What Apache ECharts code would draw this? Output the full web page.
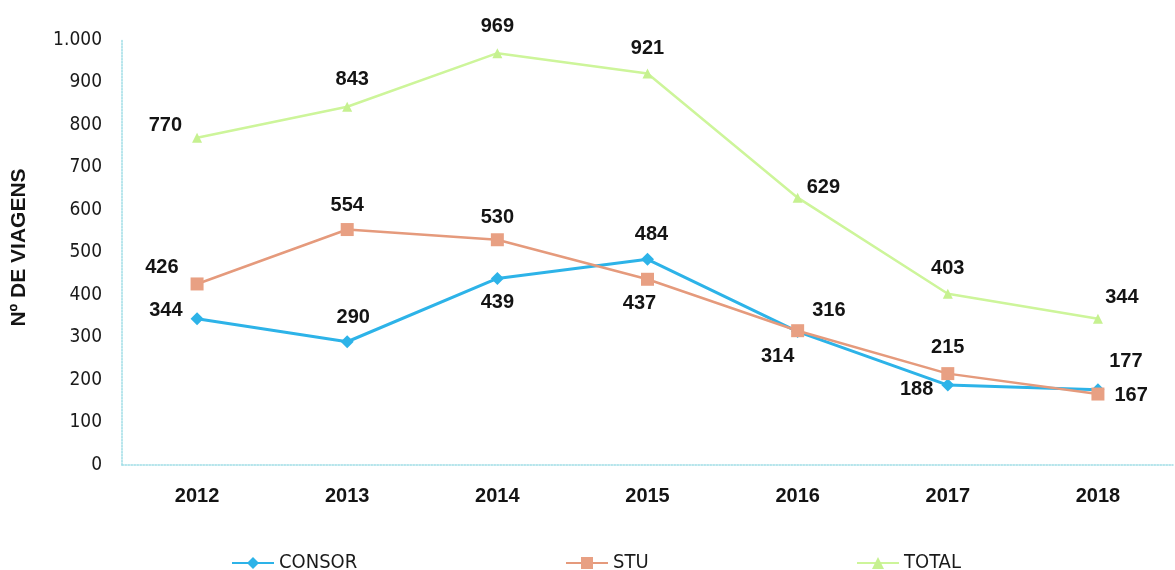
<!DOCTYPE html>
<html>
<head>
<meta charset="utf-8">
<script src="https://cdn.jsdelivr.net/npm/echarts@6/dist/echarts.min.js"></script>
<style>
html,body{margin:0;padding:0;background:#fff;}
#chart{width:1175px;height:570px;}
</style>
</head>
<body>
<div id="chart"></div>
<script>
var categories = ['2012','2013','2014','2015','2016','2017','2018'];
var consor = [344, 290, 439, 484, 314, 188, 177];
var stu = [426, 554, 530, 437, 316, 215, 167];
var total = [770, 843, 969, 921, 629, 403, 344];
var yTicks = [0, 100, 200, 300, 400, 500, 600, 700, 800, 900, 1000];

// label placement (style only)
var consorPos = [['left',[-2,-8]],['top',[6,-2]],['bottom',[0,2]],['top',[4,-2]],['bottom',[-20,2]],['left',[-2,4]],['top',[28,-6]]];
var stuPos = [['left',[-6,-16]],['top',[0,-2]],['top',[0,0]],['bottom',[-8,2]],['right',[2,-20]],['top',[0,-4]],['right',[4,1]]];
var totalPos = [['left',[-4,-12]],['top',[5,-6]],['top',[0,-6]],['top',[0,-4]],['right',[-2,-10]],['top',[0,-4]],['top',[24,0]]];

var labelFont = {fontFamily:'Liberation Sans, Arial, sans-serif', fontWeight:'bold', fontSize:20, color:'#141414'};

function mk(vals, pos){
  return vals.map(function(v,i){
    return {value:v, label:Object.assign({show:true, position:pos[i][0], offset:pos[i][1], distance:6}, labelFont)};
  });
}

var chart = echarts.init(document.getElementById('chart'), null, {renderer:'canvas'});
var legendText = {fontFamily:'DejaVu Sans Condensed, Liberation Sans, Arial, sans-serif', fontSize:20, color:'#1a1a1a'};
chart.setOption({
  animation:false,
  backgroundColor:'#ffffff',
  grid:{left:122, right:2, top:40, bottom:105},
  legend:[
    {data:['CONSOR'], left:226, top:548, itemWidth:42, itemHeight:15, itemGap:1, textStyle:legendText},
    {data:['STU'], left:560, top:548, itemWidth:42, itemHeight:15, itemGap:1, textStyle:legendText},
    {data:['TOTAL'], left:851, top:548, itemWidth:42, itemHeight:15, itemGap:1, textStyle:legendText}
  ],
  xAxis:{
    type:'category', data:categories, boundaryGap:true,
    axisLine:{lineStyle:{color:'#9fdde6', type:'dotted', width:1.5}},
    axisTick:{show:false},
    axisLabel:{margin:21, fontFamily:'Liberation Sans, Arial, sans-serif', fontWeight:'bold', fontSize:20, color:'#141414'}
  },
  yAxis:{
    type:'value', min:yTicks[0], max:yTicks[yTicks.length-1], interval:100,
    name:'Nº DE VIAGENS', nameLocation:'middle', nameGap:92, nameRotate:90,
    nameTextStyle:{fontFamily:'Liberation Sans, Arial, sans-serif', fontWeight:'bold', fontSize:21, color:'#141414', padding:[0,0,0,10]},
    axisLine:{show:true, lineStyle:{color:'#9fdde6', type:'dotted', width:1.5}},
    axisTick:{show:false},
    splitLine:{show:false},
    axisLabel:{margin:20, fontFamily:'DejaVu Sans Condensed, Liberation Sans, Arial, sans-serif', fontSize:19, color:'#1a1a1a',
      formatter:function(v){return v>=1000 ? (Math.floor(v/1000)+'.'+String(v%1000).padStart(3,'0')) : String(v);}}
  },
  series:[
    {name:'TOTAL', type:'line', data:mk(total,totalPos), symbol:'triangle', symbolSize:10,
      lineStyle:{color:'#cdf59a', width:2.5}, itemStyle:{color:'#c6f190'}, z:1},
    {name:'STU', type:'line', data:mk(stu,stuPos), symbol:'rect', symbolSize:13,
      lineStyle:{color:'#e59a7c', width:2.5}, itemStyle:{color:'#e8a083'}, z:3},
    {name:'CONSOR', type:'line', data:mk(consor,consorPos), symbol:'diamond', symbolSize:13,
      lineStyle:{color:'#2db3e8', width:3}, itemStyle:{color:'#2db3e8'}, z:2}
  ]
});
</script>
</body>
</html>
